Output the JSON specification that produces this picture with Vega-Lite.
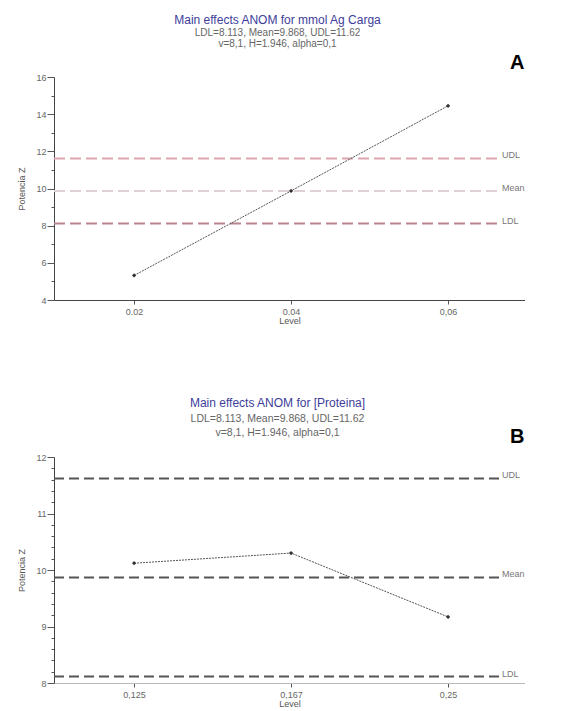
{
  "$schema": "https://vega.github.io/schema/vega-lite/v6.json",
  "padding": {"left": 17, "top": 14, "right": 0, "bottom": 0},
  "autosize": {"type": "pad"},
  "background": "white",
  "config": {
    "font": "Liberation Sans",
    "view": {"stroke": null},
    "axis": {"grid": false, "labelFont": "Liberation Sans", "titleFont": "Liberation Sans", "labelColor": "#666", "titleColor": "#555", "labelFontSize": 9, "titleFontSize": 9, "titleFontWeight": "normal", "domainColor": "#555", "tickColor": "#555", "labelOverlap": false},
    "title": {"font": "Liberation Sans", "fontWeight": "normal", "color": "#3d3d9a", "subtitleColor": "#666", "subtitleFont": "Liberation Sans"}
  },
  "datasets": {
    "a": [
      {"idx": 1, "level": "0.02", "z": 5.32},
      {"idx": 2, "level": "0.04", "z": 9.87},
      {"idx": 3, "level": "0,06", "z": 14.45}
    ],
    "b": [
      {"idx": 1, "level": "0,125", "z": 10.12},
      {"idx": 2, "level": "0,167", "z": 10.3},
      {"idx": 3, "level": "0,25", "z": 9.17}
    ],
    "limits": [
      {"line": "UDL", "v": 11.62},
      {"line": "Mean", "v": 9.868},
      {"line": "LDL", "v": 8.113}
    ]
  },
  "vconcat": [
    {
      "width": 471,
      "height": 223,
      "title": {"text": "Main effects ANOM for mmol Ag Carga", "subtitle": ["LDL=8.113, Mean=9.868, UDL=11.62", "v=8,1, H=1.946, alpha=0,1"], "fontSize": 12, "subtitleFontSize": 10, "subtitleLineHeight": 11, "subtitlePadding": 1, "anchor": "middle", "frame": "group", "dx": -12, "offset": 3},
      "layer": [
        {
          "data": {"name": "limits"},
          "mark": {"type": "rule", "strokeWidth": 2, "strokeDash": [11, 5]},
          "encoding": {
            "x": {"datum": 0.49, "type": "quantitative"},
            "x2": {"datum": 3.325},
            "y": {"field": "v", "type": "quantitative"},
            "color": {"field": "line", "type": "nominal", "scale": {"domain": ["UDL", "Mean", "LDL"], "range": ["#dba5ae", "#ddd0d6", "#b98490"]}, "legend": null}
          }
        },
        {
          "data": {"name": "limits"},
          "mark": {"type": "text", "align": "left", "baseline": "middle", "dx": 3, "dy": -3, "fontSize": 9, "color": "#777"},
          "encoding": {
            "x": {"datum": 3.325, "type": "quantitative"},
            "y": {"field": "v", "type": "quantitative"},
            "text": {"field": "line"}
          }
        },
        {
          "data": {"name": "a"},
          "mark": {"type": "line", "color": "#555", "strokeWidth": 1, "strokeDash": [2, 1]},
          "encoding": {
            "x": {"field": "idx", "type": "quantitative", "scale": {"domain": [0.49, 3.49], "nice": false, "zero": false}, "axis": {"values": [1, 2, 3], "tickCount": 100, "labelExpr": "['', '0.02', '0.04', '0,06'][datum.value]", "title": "Level", "tickSize": 4, "labelPadding": 3, "titlePadding": 0, "domainColor": "#444"}},
            "y": {"field": "z", "type": "quantitative", "scale": {"domain": [4, 16], "nice": false, "zero": false}, "axis": {"title": "Potencia Z", "values": [4, 5, 6, 7, 8, 9, 10, 11, 12, 13, 14, 15, 16], "tickCount": 100, "labelExpr": "datum.value % 2 == 0 ? format(datum.value, 'd') : ''", "tickSize": {"expr": "datum.value % 2 == 0 ? 7 : 3"}, "labelPadding": 1, "titlePadding": 9, "domainColor": "#444", "labelOverlap": false}}
          }
        },
        {
          "data": {"name": "a"},
          "mark": {"type": "point", "shape": "diamond", "filled": true, "size": 18, "color": "#333", "opacity": 1},
          "encoding": {
            "x": {"field": "idx", "type": "quantitative"},
            "y": {"field": "z", "type": "quantitative"}
          }
        },
        {
          "data": {"values": [{"tag": "A"}]},
          "mark": {"type": "text", "fontSize": 20, "fontWeight": "bold", "color": "#000", "font": "Liberation Sans", "align": "center", "baseline": "middle"},
          "encoding": {
            "x": {"datum": 3.44, "type": "quantitative"},
            "y": {"datum": 16.75, "type": "quantitative"},
            "text": {"field": "tag"}
          }
        }
      ]
    },
    {
      "width": 471,
      "height": 226,
      "title": {"text": "Main effects ANOM for [Proteina]", "subtitle": ["LDL=8.113, Mean=9.868, UDL=11.62", "v=8,1, H=1.946, alpha=0,1"], "fontSize": 12, "subtitleFontSize": 10.5, "subtitleLineHeight": 14, "subtitlePadding": 4, "anchor": "middle", "frame": "group", "dx": -12, "offset": -12},
      "layer": [
        {
          "data": {"name": "limits"},
          "mark": {"type": "rule", "strokeWidth": 2, "strokeDash": [10, 5], "color": "#555"},
          "encoding": {
            "x": {"datum": 0.49, "type": "quantitative"},
            "x2": {"datum": 3.325},
            "y": {"field": "v", "type": "quantitative"}
          }
        },
        {
          "data": {"name": "limits"},
          "mark": {"type": "text", "align": "left", "baseline": "middle", "dx": 3, "dy": -3, "fontSize": 9, "color": "#777"},
          "encoding": {
            "x": {"datum": 3.325, "type": "quantitative"},
            "y": {"field": "v", "type": "quantitative"},
            "text": {"field": "line"}
          }
        },
        {
          "data": {"name": "b"},
          "mark": {"type": "line", "color": "#555", "strokeWidth": 1, "strokeDash": [2, 1]},
          "encoding": {
            "x": {"field": "idx", "type": "quantitative", "scale": {"domain": [0.49, 3.49], "nice": false, "zero": false}, "axis": {"values": [1, 2, 3], "tickCount": 100, "labelExpr": "['', '0,125', '0,167', '0,25'][datum.value]", "title": "Level", "tickSize": 4, "labelPadding": 3, "titlePadding": 0, "domainColor": "#bbb"}},
            "y": {"field": "z", "type": "quantitative", "scale": {"domain": [8, 12], "nice": false, "zero": false}, "axis": {"title": "Potencia Z", "values": [8, 8.2, 8.4, 8.6, 8.8, 9, 9.2, 9.4, 9.6, 9.8, 10, 10.2, 10.4, 10.6, 10.8, 11, 11.2, 11.4, 11.6, 11.8, 12], "tickCount": 100, "labelExpr": "abs(datum.value - round(datum.value)) < 0.01 ? format(datum.value, 'd') : ''", "tickSize": {"expr": "abs(datum.value - round(datum.value)) < 0.01 ? 7 : 3"}, "labelPadding": 1, "titlePadding": 9, "domainColor": "#444", "labelOverlap": false}}
          }
        },
        {
          "data": {"name": "b"},
          "mark": {"type": "point", "shape": "diamond", "filled": true, "size": 18, "color": "#333", "opacity": 1},
          "encoding": {
            "x": {"field": "idx", "type": "quantitative"},
            "y": {"field": "z", "type": "quantitative"}
          }
        },
        {
          "data": {"values": [{"tag": "B"}]},
          "mark": {"type": "text", "fontSize": 20, "fontWeight": "bold", "color": "#000", "font": "Liberation Sans", "align": "center", "baseline": "middle"},
          "encoding": {
            "x": {"datum": 3.44, "type": "quantitative"},
            "y": {"datum": 12.35, "type": "quantitative"},
            "text": {"field": "tag"}
          }
        }
      ]
    }
  ],
  "bounds": "flush",
  "spacing": 157
}
